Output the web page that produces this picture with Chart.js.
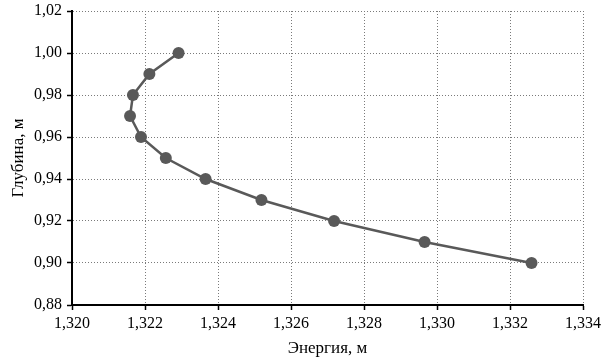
<!DOCTYPE html>
<html>
<head>
<meta charset="utf-8">
<script src="https://cdn.jsdelivr.net/npm/chart.js@4"></script>
<style>
  html, body { margin: 0; padding: 0; background: #fff; }
  #wrap { width: 605px; height: 361px; }
</style>
</head>
<body>
<div id="wrap"><canvas id="chart" width="605" height="361"></canvas></div>
<script>
// depth (m) vs specific energy (m)
const depth = [0.90, 0.91, 0.92, 0.93, 0.94, 0.95, 0.96, 0.97, 0.98, 0.99, 1.00];
const energy = [1.33259, 1.32966, 1.32718, 1.32519, 1.32366, 1.32257, 1.32189, 1.32159, 1.32167, 1.32212, 1.32292];

const xTitle = 'Энергия, м';
const yTitle = 'Глубина, м';

const points = depth.map((d, i) => ({ x: energy[i], y: d }));

const fontFamily = '"Liberation Serif", "Times New Roman", serif';
const comma = (v, digits) => Number(v).toFixed(digits).replace('.', ',');

// shared axis look: dotted grid, black axis line, short outer ticks
const gridOpts = {
    color: '#7a7a7a',
    lineWidth: 1,
    tickColor: '#000',
    tickLength: 5,
    tickWidth: 1.5,
    tickBorderDash: []
};

new Chart(document.getElementById('chart'), {
    type: 'scatter',
    data: {
        datasets: [{
            data: points,
            showLine: true,
            borderColor: '#595959',
            backgroundColor: '#595959',
            borderWidth: 2.5,
            pointRadius: 6,
            pointBorderWidth: 0,
            pointHoverRadius: 6,
            tension: 0
        }]
    },
    options: {
        responsive: false,
        animation: false,
        layout: { padding: { top: 0, right: 22, left: 8, bottom: 2 } },
        plugins: {
            legend: { display: false },
            tooltip: { enabled: false }
        },
        scales: {
            x: {
                type: 'linear',
                min: 1.320,
                max: 1.334,
                ticks: {
                    stepSize: 0.002,
                    color: '#000',
                    padding: 4,
                    maxRotation: 0,
                    font: { family: fontFamily, size: 16 },
                    callback: v => comma(v, 3)
                },
                grid: gridOpts,
                border: { display: true, color: '#000', width: 2, dash: [1, 2] },
                title: {
                    display: true,
                    text: xTitle,
                    color: '#000',
                    font: { family: fontFamily, size: 17 },
                    padding: { top: 2, bottom: 0 }
                },
                afterFit: scale => { scale.height = 54; }
            },
            y: {
                type: 'linear',
                min: 0.88,
                max: 1.02,
                ticks: {
                    stepSize: 0.02,
                    color: '#000',
                    padding: 5,
                    font: { family: fontFamily, size: 16 },
                    callback: v => comma(v, 2)
                },
                grid: gridOpts,
                border: { display: true, color: '#000', width: 2, dash: [1, 2] },
                title: {
                    display: true,
                    text: yTitle,
                    color: '#000',
                    font: { family: fontFamily, size: 17 },
                    padding: { top: 0, bottom: 4 }
                },
                afterFit: scale => {
                    scale.width = 64;
                    scale.paddingTop = 11; // top label may sit close to the edge
                }
            }
        }
    }
});
</script>
</body>
</html>
